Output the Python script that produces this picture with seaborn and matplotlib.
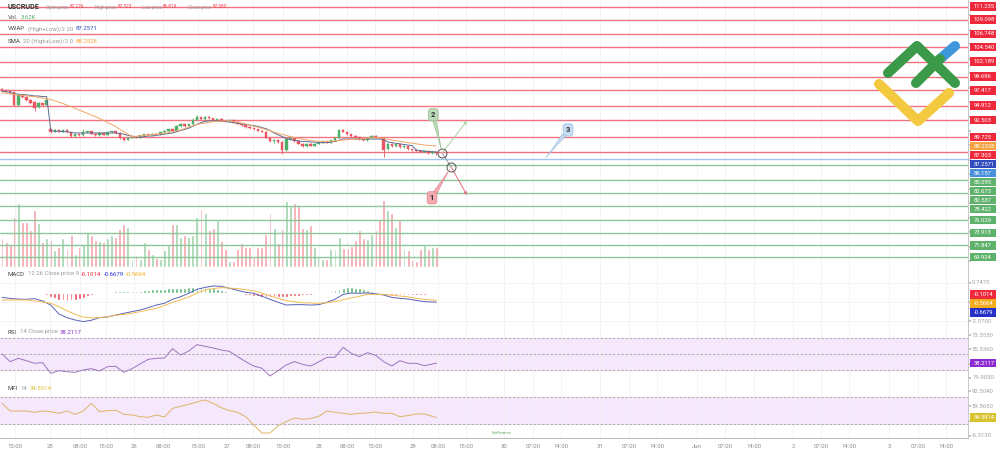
import numpy as np
import matplotlib.pyplot as plt
import seaborn as sns
from matplotlib.patches import Rectangle
from matplotlib.lines import Line2D
from matplotlib.ticker import NullFormatter

# === DATOS: VELAS HORARIAS ===
opens = [97.6, 97.5, 97.3, 97.1, 95.0, 96.6, 96.3, 95.9, 95.5, 94.7, 95.3, 95.0,
         91.0, 90.6, 90.9, 90.6, 90.9, 90.5, 89.9, 90.2, 90.0, 90.5, 90.7, 90.3,
         90.0, 90.4, 90.1, 90.5, 90.7, 90.4, 89.6, 89.3, 89.6, 89.8, 89.7, 90.0,
         90.2, 90.1, 90.3, 90.2, 90.5, 90.7, 91.0, 90.8, 91.5, 91.9, 91.5, 91.8,
         92.6, 93.0, 92.7, 93.1, 92.8, 92.5, 92.7, 92.4, 92.3, 92.5, 92.2, 91.9,
         91.7, 91.4, 91.2, 91.0, 90.8, 90.6, 89.6, 89.0, 89.3, 88.9, 87.6, 89.4,
         89.6, 89.0, 88.6, 88.2, 88.6, 88.3, 88.6, 88.8, 89.0, 88.8, 89.2, 89.6,
         90.9, 90.6, 90.2, 89.9, 89.7, 89.4, 89.2, 89.6, 89.9, 89.6, 89.5, 87.7,
         88.6, 88.2, 88.5, 88.0, 88.3, 87.7, 87.6, 87.4, 87.3, 87.4, 87.1, 87.276]
closes = [97.5, 97.3, 97.2, 95.0, 96.6, 96.3, 95.9, 95.4, 94.6, 95.3, 95.0, 95.8,
          90.6, 90.9, 90.6, 90.9, 90.5, 89.9, 90.2, 90.0, 90.5, 90.7, 90.3, 90.0,
          90.4, 90.1, 90.5, 90.7, 90.4, 89.5, 89.3, 89.6, 89.8, 89.7, 90.0, 90.2,
          90.1, 90.3, 90.2, 90.5, 90.7, 91.0, 90.8, 91.5, 91.9, 91.5, 91.8, 92.6,
          93.0, 92.7, 93.1, 92.8, 92.5, 92.7, 92.4, 92.3, 92.5, 92.2, 91.9, 91.7,
          91.4, 91.2, 91.0, 90.8, 90.6, 89.6, 89.0, 89.3, 88.9, 87.6, 89.4, 89.6,
          89.0, 88.6, 88.2, 88.6, 88.3, 88.6, 88.8, 89.0, 88.8, 89.2, 89.6, 90.9,
          90.6, 90.2, 89.9, 89.7, 89.4, 89.2, 89.6, 89.9, 89.6, 89.5, 87.6, 88.6,
          88.2, 88.5, 88.0, 88.3, 87.7, 87.6, 87.4, 87.3, 87.4, 87.1, 87.3, 87.080]
highs = [97.8, 97.6, 97.5, 97.2, 96.8, 96.8, 96.4, 96.0, 95.6, 95.5, 95.4, 96.0,
         91.1, 91.0, 91.0, 91.1, 91.0, 90.6, 90.3, 90.3, 91.1, 90.8, 90.8, 90.4,
         90.5, 90.5, 90.6, 90.8, 90.8, 90.5, 89.7, 89.7, 89.9, 89.9, 90.1, 90.3,
         90.3, 90.4, 90.4, 90.6, 90.8, 91.1, 91.1, 91.7, 92.0, 92.0, 91.9, 92.8,
         93.3, 93.1, 93.2, 93.2, 92.9, 92.8, 92.8, 92.5, 92.6, 92.6, 92.3, 92.0,
         91.8, 91.5, 91.3, 91.1, 90.9, 90.7, 89.7, 89.4, 89.4, 89.0, 89.6, 89.8,
         89.7, 89.1, 88.7, 88.7, 88.7, 88.7, 88.9, 89.1, 89.1, 89.3, 89.7, 91.1,
         91.0, 90.7, 90.3, 90.0, 89.8, 89.5, 89.7, 90.0, 90.0, 89.7, 89.6, 88.8,
         88.7, 88.6, 88.6, 88.4, 88.4, 87.8, 87.7, 87.5, 87.5, 87.5, 87.4, 87.323]
lows = [97.3, 97.1, 96.9, 94.8, 94.9, 96.1, 95.7, 95.2, 94.0, 94.5, 94.8, 94.9,
        90.4, 90.5, 90.5, 90.5, 90.4, 89.8, 89.8, 89.9, 89.9, 90.4, 90.2, 89.9,
        89.9, 90.0, 90.0, 90.4, 90.3, 89.4, 89.0, 89.2, 89.5, 89.6, 89.6, 89.9,
        90.0, 90.0, 90.1, 90.1, 90.4, 90.6, 90.7, 90.7, 91.4, 91.4, 91.4, 91.7,
        92.5, 92.6, 92.6, 92.7, 92.4, 92.4, 92.3, 92.2, 92.2, 92.1, 91.8, 91.6,
        91.3, 91.1, 90.9, 90.7, 90.5, 89.5, 88.9, 88.8, 88.7, 86.9, 87.5, 89.3,
        88.9, 88.5, 88.1, 88.1, 88.2, 88.2, 88.5, 88.7, 88.7, 88.7, 89.1, 89.5,
        90.5, 90.1, 89.8, 89.6, 89.3, 89.1, 89.1, 89.5, 89.5, 89.4, 86.5, 87.6,
        88.1, 88.1, 87.9, 87.9, 87.6, 87.5, 87.3, 87.2, 87.2, 87.0, 87.0, 86.819]
volumes_k = [1.55, 1.36, 1.27, 2.73, 3.45, 2.45, 2.45, 2.00, 3.09, 2.36,
             1.36, 1.55, 1.45, 0.91, 1.09, 1.55, 1.00, 1.73, 0.73, 1.09,
             1.27, 1.91, 1.73, 1.45, 1.40, 1.36, 1.55, 1.73, 1.64, 2.04,
             2.31, 2.18, 0.45, 0.64, 0.42, 1.36, 0.95, 0.69, 0.51, 0.45,
             0.91, 1.18, 2.31, 2.31, 1.60, 1.73, 1.64, 1.73, 2.73, 3.13,
             2.91, 2.00, 2.09, 2.55, 1.42, 1.00, 0.33, 0.33, 0.96, 1.31,
             1.09, 1.09, 0.55, 1.09, 1.09, 1.76, 2.91, 2.09, 1.31, 2.04,
             3.55, 3.31, 3.49, 3.31, 2.09, 2.04, 2.27, 1.09, 0.58, 0.42,
             0.45, 1.00, 1.00, 1.60, 1.05, 1.05, 1.13, 1.45, 2.00, 1.55,
             1.49, 1.76, 2.00, 2.58, 3.64, 3.09, 2.91, 2.18, 2.55, 1.00,
             0.91, 0.36, 0.31, 0.96, 1.22, 0.96, 1.09, 1.09]

# === INDICADORES SOBRE EL PRECIO ===
vwap = [97.3, 97.2, 97.1, 96.9, 96.8, 96.7, 96.7, 96.6, 96.5, 96.5, 96.4, 96.4,
        90.8, 90.7, 90.7, 90.6, 90.6, 90.5, 90.4, 90.4, 90.4, 90.4, 90.4, 90.4,
        90.4, 90.4, 90.4, 90.4, 90.4, 90.3, 90.2, 90.0, 89.9,
        89.7, 89.7, 89.8, 89.9, 89.9, 90.0, 90.1, 90.2, 90.3, 90.4, 90.6, 90.8,
        91.0, 91.2, 91.5, 91.8, 92.1, 92.3, 92.4, 92.4, 92.4, 92.3, 92.3,
        92.2, 92.1, 92.0, 91.9, 91.8, 91.7, 91.6, 91.5, 91.3, 91.1, 90.8, 90.4,
        90.1, 89.8, 89.5, 89.3, 89.2, 89.1, 89.0, 89.0, 88.9, 88.9,
        88.8, 88.8, 88.8, 88.9, 89.0, 89.2, 89.4, 89.4, 89.4, 89.4, 89.4, 89.4,
        89.4, 89.4, 89.4, 89.4, 89.3, 88.9, 88.8, 88.7, 88.6, 88.5, 88.4, 88.3,
        87.6, 87.5, 87.4, 87.35, 87.3, 87.2571]
sma_x = list(range(0, 105, 4)) + [107]
sma = [97.04, 96.66, 96.38, 95.94, 95.01, 93.91, 92.81, 91.44, 89.79, 90.06,
       90.34, 90.89, 91.82, 92.26, 92.43, 91.88, 91.16, 90.34, 89.62, 89.13,
       88.96, 89.24, 89.40, 89.68, 89.24, 88.80, 88.41, 88.2528]

# === NIVELES HORIZONTALES ===
levels_red = [111.235, 109.098, 106.748, 104.540, 102.189, 99.696, 97.417,
              94.912, 92.503, 89.725, 87.303]
levels_blue = [86.157]
levels_green = [85.095, 82.673, 80.537, 78.422, 76.029, 73.913, 71.847, 69.924]
price_ticks = [109.783, 107.400, 105.017, 102.634, 100.251, 97.869,
               95.486, 93.103, 90.720, 88.337, 85.954, 83.571, 81.189, 78.806,
               76.423, 74.040, 71.657, 69.274]

# === OSCILADORES (cada 2 velas) ===
ind_x = list(range(0, 107, 2)) + [107]
macd = [-0.32, -0.39, -0.44, -0.46, -0.41, -0.58, -0.88, -1.53, -1.80, -1.97,
        -2.09, -1.99, -1.80, -1.75, -1.61, -1.48, -1.36, -1.24, -1.07, -0.88,
        -0.75, -0.46, -0.27, -0.02, 0.27, 0.41, 0.51, 0.49, 0.34, 0.19,
        0.05, -0.02, -0.24, -0.46, -0.68, -0.88, -0.85, -0.85, -0.88, -0.85,
        -0.68, -0.46, -0.10, 0.00, -0.02, 0.00, -0.05, -0.15, -0.32, -0.39,
        -0.44, -0.54, -0.63, -0.66, -0.6679]
signal = [-0.51, -0.51, -0.51, -0.51, -0.58, -0.66, -0.75, -1.00, -1.29, -1.56,
          -1.75, -1.82, -1.80, -1.73, -1.63, -1.56, -1.48, -1.36, -1.24, -1.12,
          -0.92, -0.68, -0.49, -0.29, 0.00, 0.22, 0.32, 0.39, 0.36, 0.32,
          0.24, 0.15, 0.00, -0.22, -0.39, -0.56, -0.63, -0.71, -0.73, -0.75,
          -0.71, -0.63, -0.49, -0.36, -0.24, -0.10, -0.10, -0.10, -0.17, -0.22,
          -0.29, -0.39, -0.46, -0.51, -0.5664]
hist = [0.10, 0.08, 0.06, 0.03, 0.02, 0.01, -0.01, -0.02,
        -0.05, -0.08, -0.10, -0.12,
        -0.30, -0.40, -0.48, -0.53, -0.55, -0.52, -0.48, -0.42, -0.35,
        -0.20, -0.12, -0.05, -0.02, 0.01, 0.03,
        0.10, 0.12, 0.12, 0.14, 0.15, 0.14, 0.16, 0.18,
        0.22, 0.25, 0.26, 0.28, 0.30, 0.32, 0.34, 0.35, 0.37, 0.38, 0.40, 0.42,
        0.45, 0.47, 0.45, 0.42, 0.38, 0.33, 0.28, 0.22,
        0.15, 0.10, 0.05, 0.02,
        -0.08, -0.13, -0.18, -0.22, -0.25, -0.27, -0.28, -0.30, -0.31, -0.30,
        -0.28, -0.26, -0.24, -0.22, -0.20, -0.18, -0.15, -0.12, -0.08, -0.04,
        0.05, 0.10, 0.15, 0.22, 0.30, 0.38, 0.45, 0.44, 0.40, 0.33, 0.27, 0.20,
        0.12, 0.08, 0.04,
        -0.08, -0.12, -0.14, -0.15, -0.15, -0.14, -0.13, -0.12, -0.12, -0.11,
        -0.11, -0.10, -0.10, -0.1014]
rsi = [49.8, 40.1, 44.3, 41.3, 38.0, 38.8, 25.3, 28.7, 27.4, 26.6,
       29.6, 31.2, 28.3, 33.8, 34.2, 26.6, 31.2, 37.1, 43.0, 44.3,
       44.7, 56.5, 48.5, 53.6, 61.6, 59.5, 57.4, 54.8, 53.1, 46.4,
       40.1, 34.6, 31.7, 22.0, 28.7, 35.9, 40.1, 36.7, 34.6, 39.7,
       45.6, 45.6, 58.2, 50.6, 46.4, 51.5, 48.1, 40.1, 34.6, 41.3,
       38.0, 38.0, 35.0, 37.1, 38.2117]
mfi = [65.9, 48.9, 48.9, 48.9, 46.0, 48.9, 47.4, 43.7, 48.9, 41.5,
       48.9, 65.9, 47.4, 49.7, 50.4, 41.5, 40.0, 36.3, 34.9, 40.0,
       35.6, 54.8, 59.3, 63.7, 68.9, 73.3, 65.9, 56.3, 49.7, 46.0,
       36.3, 17.8, 0.0, 0.0, 16.4, 25.2, 33.4, 30.4, 31.9, 37.1,
       48.9, 46.0, 43.7, 41.5, 43.7, 44.5, 46.7, 43.7, 43.7, 36.3,
       38.6, 42.3, 42.3, 37.1, 34.5914]

# === EJE TEMPORAL ===
tick_labels = ["15:00", "25", "08:00", "15:00", "26", "08:00", "15:00", "27",
               "08:00", "15:00", "28", "08:00", "15:00", "29", "08:00", "15:00",
               "30", "07:00", "14:00", "31", "07:00", "14:00", "Jun", "07:00",
               "14:00", "2", "07:00", "14:00", "3", "07:00", "14:00"]
tick_pos = [3.2, 11.8, 19.2, 25.6, 32.5, 39.7, 48.3, 55.4, 61.8, 69.2, 78.1,
            85.0, 91.9, 101.2, 107.4, 114.3, 123.6, 130.8, 137.7, 147.3, 154.4,
            161.3, 171.2, 178.1, 185.2, 194.8, 201.7, 208.6, 218.5, 225.6, 232.5]

# === CONFIGURACIÓN ===
sns.set_theme(style="white")
plt.rcParams['font.family'] = ['Roboto', 'DejaVu Sans']

W, H = 1000, 449
RIGHT = 968
fig = plt.figure(figsize=(W / 100, H / 100), dpi=100)
fig.patch.set_facecolor("white")
renderer = fig.canvas.get_renderer()

GREEN, RED = "#4fae67", "#ec5562"
XLIM = (-0.5, 237.9)
x_bars = np.arange(len(closes))


def panel(top, bottom):
    ax = fig.add_axes([0, 1 - bottom / H, RIGHT / W, (bottom - top) / H])
    ax.set_xlim(*XLIM)
    ax.set_facecolor("white")
    for s in ["top", "left"]:
        ax.spines[s].set_visible(False)
    ax.spines["right"].set_color("#c8c8c8")
    ax.spines["bottom"].set_color("#d2d2d2")
    ax.spines["right"].set_linewidth(0.7)
    ax.spines["bottom"].set_linewidth(0.7)
    ax.set_xticks(tick_pos)
    ax.xaxis.set_major_formatter(NullFormatter())
    ax.grid(axis="x", color="#f1f1f1", lw=0.6)
    ax.tick_params(axis="x", length=0, labelbottom=False)
    return ax


def fig_text(px, py, s, color, fontsize=4.3, **kw):
    return fig.text(px / W, 1 - py / H, s, color=color, va="center", ha="left",
                    fontsize=fontsize, zorder=kw.pop("zorder", 6), **kw)


def text_run(px, py, pieces, fontsize=4.3, gap=2.5):
    # piezas de texto consecutivas con distinto color
    for s, color in pieces:
        t = fig_text(px, py, s, color, fontsize=fontsize)
        px = t.get_window_extent(renderer).x1 + gap


def to_px(ax, top, bottom, v):
    y0, y1 = ax.get_ylim()
    return top + (y1 - v) / (y1 - y0) * (bottom - top)


def value_boxes(ax, top, bottom, items, gap=9.0):
    want = [to_px(ax, top, bottom, v) for v, _, _ in items]
    placed, last = {}, -1e9
    for k in np.argsort(want):
        placed[k] = max(want[k], last + gap)
        last = placed[k]
    for k, (v, txt, col) in enumerate(items):
        y = placed[k]
        fig.add_artist(Rectangle((970 / W, 1 - (y + 4.2) / H), 26 / W, 8.4 / H,
                                 transform=fig.transFigure, fc=col, ec="none",
                                 zorder=5))
        fig_text(973.5, y, txt, "white", fontsize=4.2)
    return list(placed.values())


def right_ticks(ax, top, bottom, ticks, fmt, boxes):
    # marcas a la derecha; etiquetas grises solo donde no las tapa una caja
    ax.set_yticks(ticks)
    ax.yaxis.set_major_formatter(NullFormatter())
    ax.tick_params(axis="y", left=False, labelleft=False, right=True,
                   labelright=False, length=2, color="#bbbbbb")
    for t in ticks:
        py = to_px(ax, top, bottom, t)
        if top + 3 < py < bottom - 2 and all(abs(py - b) > 7.2 for b in boxes):
            fig_text(972, py, fmt.format(t), "#a3a3a3", fontsize=4.3)


# === PANEL PRINCIPAL ===
ax = panel(0, 267)
ax.set_ylim(68.28, 112.34)

for lv in levels_red:
    ax.axhline(lv, color="#ef7480", lw=1.0, zorder=1)
for lv in levels_blue:
    ax.axhline(lv, color="#a3c6ea", lw=1.0, zorder=1)
for lv in levels_green:
    ax.axhline(lv, color="#8dc79a", lw=1.0, zorder=1)

up = np.array(closes) >= np.array(opens)
cols = np.where(up, GREEN, RED)

# volumen en eje gemelo por debajo de las líneas
axv = ax.twinx()
axv.set_ylim(0, 14.45)
axv.set_yticks([])
axv.tick_params(axis="both", length=0, labelright=False, labelleft=False,
                labelbottom=False)
axv.xaxis.set_major_formatter(NullFormatter())
for s in axv.spines.values():
    s.set_visible(False)
axv.bar(x_bars, volumes_k, width=0.72,
        color=np.where(up, "#9fd5ad", "#f4a3ab"), zorder=1)
axv.set_zorder(ax.get_zorder() - 1)
ax.patch.set_visible(False)
axv.patch.set_facecolor("white")

ax.vlines(x_bars, lows, highs, colors=cols, lw=0.6, zorder=3)
ax.bar(x_bars, np.array(closes) - np.array(opens), bottom=opens, width=0.62,
       color=cols, edgecolor=cols, lw=0.3, zorder=4)
sns.lineplot(x=x_bars, y=vwap, ax=ax, color="#5b6d92", lw=0.7, zorder=5)
sns.lineplot(x=sma_x, y=sma, ax=ax, color="#f2a768", lw=0.7, zorder=5)
ax.set_xlabel("")
ax.set_ylabel("")

# === DIBUJOS DEL ANALISTA ===
pA, pB = (108.4, 87.09), (110.6, 84.78)
ax.plot([pA[0], pB[0]], [pA[1], pB[1]], color="#8a8a8a", lw=0.6, zorder=6)
ax.annotate("", xy=(114.5, 92.37), xytext=pA,
            arrowprops=dict(arrowstyle="-|>", color="#a9cfa6", lw=0.7,
                            mutation_scale=4, shrinkA=0, shrinkB=0), zorder=6)
ax.annotate("", xy=(114.5, 80.16), xytext=pB,
            arrowprops=dict(arrowstyle="-|>", color="#e0707c", lw=0.7,
                            mutation_scale=4, shrinkA=0, shrinkB=0), zorder=6)
ax.plot([pA[0], pB[0]], [pA[1], pB[1]], "o", ms=6.5, mfc="none",
        mec="#555555", mew=0.7, zorder=7)
for txt, tgt, pos, fc, ec in [("2", pA, (106.2, 93.4), "#bcdab7", "#93bf8e"),
                              ("1", pB, (105.9, 79.7), "#f2a9b0", "#e0858f"),
                              ("3", (133.5, 85.93), (139.4, 90.9), "#c6dcf2", "#9dbfe3")]:
    ax.annotate(txt, xy=tgt, xytext=pos, ha="center", va="center", fontsize=5.5,
                fontweight="bold", color="#333333", zorder=8,
                bbox=dict(boxstyle="round,pad=0.35", fc=fc, ec=ec, lw=0.5),
                arrowprops=dict(arrowstyle="wedge,tail_width=0.5,shrink_factor=0.4",
                                fc=fc, ec=ec, lw=0.4, shrinkA=0, shrinkB=2))

boxes = value_boxes(ax, 0, 267,
                    [(v, f"{v:.3f}", "#f0283c") for v in levels_red]
                    + [(88.2528, "88.2528", "#f5a13e"), (87.2571, "87.2571", "#2f4bbd")]
                    + [(v, f"{v:.3f}", "#4a8fdc") for v in levels_blue]
                    + [(v, f"{v:.3f}", "#5fb26b") for v in levels_green])
right_ticks(ax, 0, 267, price_ticks, "{:.3f}", boxes)

# === MACD ===
axm = panel(267, 326)
axm.set_ylim(-2.409, 1.898)
axm.grid(axis="y", color="#f3f3f3", lw=0.6)
axm.bar(x_bars, hist, width=0.7,
        color=["#5cb87a" if h >= 0 else "#ef4b5a" for h in hist], zorder=2)
sns.lineplot(x=ind_x, y=macd, ax=axm, color="#5a62b8", lw=0.7, zorder=3)
sns.lineplot(x=ind_x, y=signal, ax=axm, color="#f2bb52", lw=0.7, zorder=3)
axm.set_xlabel("")
axm.set_ylabel("")
boxes = value_boxes(axm, 267, 326, [(-0.1014, "-0.1014", "#f0283c"),
                                    (-0.5664, "-0.5664", "#f5ad1e"),
                                    (-0.6679, "-0.6679", "#2430c8")])
right_ticks(axm, 267, 326, [0.7470, -0.6615, -2.0700], "{:.4f}", boxes)

# === RSI ===
axr = panel(326, 381)
axr.set_ylim(15.6, 85.2)
axr.axhspan(30, 70, color="#f5e8fc", zorder=0)
for lv in [70, 50, 30]:
    axr.axhline(lv, color="#a5a5a5", lw=0.6, ls=(0, (3, 2)), zorder=1)
sns.lineplot(x=ind_x, y=rsi, ax=axr, color="#9c74bd", lw=0.7, zorder=3)
axr.set_xlabel("")
axr.set_ylabel("")
boxes = value_boxes(axr, 326, 381, [(38.2117, "38.2117", "#8c2bd1")])
right_ticks(axr, 326, 381, [73.353, 55.536, 37.719, 19.903], "{:.4f}", boxes)

# === MFI ===
axf = panel(381, 438)
axf.set_ylim(-11.1, 115.5)
axf.axhspan(20, 80, color="#f5e8fc", zorder=0)
for lv in [80, 20]:
    axf.axhline(lv, color="#a5a5a5", lw=0.6, ls=(0, (3, 2)), zorder=1)
sns.lineplot(x=ind_x, y=mfi, ax=axf, color="#dcb466", lw=0.7, zorder=3)
axf.set_xlabel("")
axf.set_ylabel("")
axf.spines["bottom"].set_color("#b8b8b8")
axf.set_xticks(tick_pos, tick_labels)
axf.tick_params(axis="x", labelbottom=True, labelsize=4.3,
                labelcolor="#8c8c8c", pad=2, length=2, color="#bbbbbb")
boxes = value_boxes(axf, 381, 438, [(34.5914, "34.5914", "#d9c22f")])
right_ticks(axf, 381, 438, [92.504, 59.565, 26.626, -6.313], "{:.4f}", boxes)

# === ENCABEZADOS ===
fig_text(8, 7, "USCRUDE", "#333333", fontsize=5.2, fontweight="bold")
for px, lab, val in [(46, "Open price", "87.276"),
                     (95, "High price", "87.323"),
                     (141.5, "Low price", "86.819"),
                     (188, "Close price", "87.080")]:
    text_run(px, 7, [(lab, "#9a9a9a"), (val, "#f04050")], fontsize=3.3, gap=1.5)
text_run(8, 17.5, [("Vol.", "#555555"), ("3.62K", "#4fae67")])
text_run(8, 29, [("VWAP", "#444444"), ("(High+Low)/2 20", "#999999"),
                 ("87.2571", "#2f4bbd")])
text_run(8, 41.5, [("SMA", "#444444"), ("20 (High+Low)/2 0", "#999999"),
                   ("88.2528", "#f5a13e")])
text_run(8, 274, [("MACD", "#444444"), ("12 26 Close price 9", "#999999"),
                  ("-0.1014", "#f0283c"), ("-0.6679", "#2430c8"),
                  ("-0.5664", "#f5ad1e")])
text_run(8, 332, [("RSI", "#444444"), ("14 Close price", "#999999"),
                  ("38.2117", "#8c2bd1")])
text_run(8, 388, [("MFI", "#444444"), ("14", "#999999"),
                  ("34.5914", "#d9c22f")])
fig_text(492, 433, "LiteFinance", "#5aa05a", fontsize=2.8)

# === LOGO ===
def stroke(pts, color):
    xs = [p[0] / W for p in pts]
    ys = [1 - p[1] / H for p in pts]
    fig.add_artist(Line2D(xs, ys, transform=fig.transFigure, color=color,
                          lw=7.2, solid_capstyle="round",
                          solid_joinstyle="round", zorder=9))


stroke([(879, 84), (918, 121), (949, 93)], "#f3c93f")
stroke([(940, 59), (955, 46)], "#3f97db")
stroke([(888, 73), (917, 46), (955, 83)], "#3a9a4a")
stroke([(916, 83), (940, 59)], "#3a9a4a")

fig.savefig("out.png", dpi=100, facecolor="white")
